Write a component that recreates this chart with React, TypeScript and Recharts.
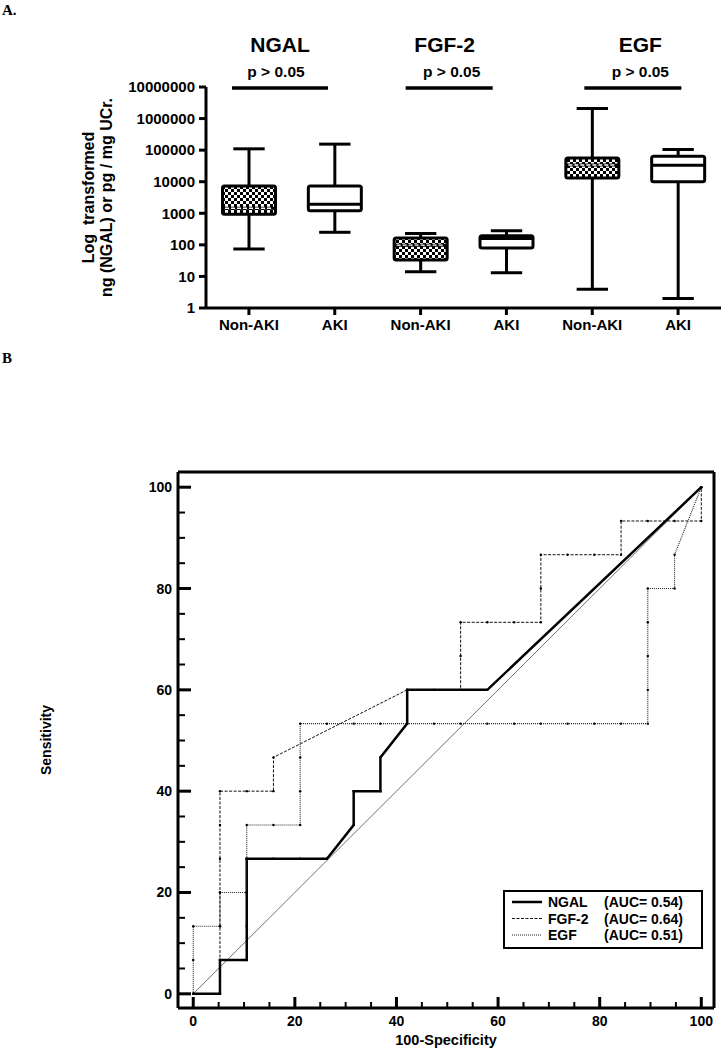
import React from 'react';
import { ComposedChart, Bar, Line, XAxis, YAxis, Legend } from 'recharts';

const FONT = '"Liberation Sans", Arial, Helvetica, sans-serif';

// ---- panel A: box plots (log scale) ----
const boxLabels = ['Non-AKI', 'AKI', 'Non-AKI', 'AKI', 'Non-AKI', 'AKI'];
const boxMarkers = ['NGAL', 'NGAL', 'FGF-2', 'FGF-2', 'EGF', 'EGF'];
const whiskerLow = [74, 250, 14, 13, 3.9, 2.0];
const quartile1 = [940, 1200, 33, 79, 13000, 9900];
const medians = [1450, 1950, 98, 158, 33700, 33500];
const quartile3 = [7250, 7300, 164, 195, 56000, 64000];
const whiskerHigh = [110000, 155000, 230, 280, 2100000, 105000];
const logTicks = [1, 10, 100, 1000, 10000, 100000, 1000000, 10000000];

const groupTitles = ['NGAL', 'FGF-2', 'EGF'];
const groupP = ['p > 0.05', 'p > 0.05', 'p > 0.05'];
const yTitleA = ['Log  transformed', 'ng (NGAL) or pg / mg UCr.'];

// ---- panel B: ROC curves ----
const pctTicks = [0, 5, 10, 15, 20, 25, 30, 35, 40, 45, 50, 55, 60, 65, 70, 75, 80, 85, 90, 95, 100];
const diagX = [0, 100];
const diagY = [0, 100];
const ngalX = [0, 5.26, 5.26, 10.53, 10.53, 10.53, 10.53, 15.79, 21.05, 26.32, 31.58, 31.58, 36.84, 36.84, 42.11, 42.11, 47.37, 52.63, 57.89, 100];
const ngalY = [0, 0, 6.67, 6.67, 13.33, 20, 26.67, 26.67, 26.67, 26.67, 33.33, 40, 40, 46.67, 53.33, 60, 60, 60, 60, 100];
const fgfX = [0, 5.26, 5.26, 5.26, 5.26, 5.26, 5.26, 5.26, 10.53, 15.79, 15.79, 42.11, 47.37, 52.63, 52.63, 52.63, 57.89, 63.16, 68.42, 68.42, 68.42, 73.68, 78.95, 84.21, 84.21, 89.47, 94.74, 100, 100];
const fgfY = [0, 0, 6.67, 13.33, 20, 26.67, 33.33, 40, 40, 40, 46.67, 60, 60, 60, 66.67, 73.33, 73.33, 73.33, 73.33, 80, 86.67, 86.67, 86.67, 86.67, 93.33, 93.33, 93.33, 93.33, 100];
const egfX = [0, 0, 0, 5.26, 5.26, 10.53, 10.53, 10.53, 15.79, 21.05, 21.05, 21.05, 21.05, 26.32, 31.58, 36.84, 42.11, 47.37, 52.63, 57.89, 63.16, 68.42, 73.68, 78.95, 84.21, 89.47, 89.47, 89.47, 89.47, 89.47, 94.74, 94.74, 100];
const egfY = [0, 6.67, 13.33, 13.33, 20, 20, 26.67, 33.33, 33.33, 33.33, 40, 46.67, 53.33, 53.33, 53.33, 53.33, 53.33, 53.33, 53.33, 53.33, 53.33, 53.33, 53.33, 53.33, 53.33, 53.33, 60, 66.67, 73.33, 80, 80, 86.67, 100];
const rocNames = ['NGAL', 'FGF-2', 'EGF'];
const rocAuc = ['0.54', '0.64', '0.51'];

const zip = (xs: number[], ys: number[]) => xs.map((x, i) => ({ x, y: ys[i] }));

const boxRows = boxLabels.map((label, i) => ({
  key: `${boxMarkers[i]}-${label}`,
  label,
  wLow: whiskerLow[i],
  q1: quartile1[i],
  median: medians[i],
  q3: quartile3[i],
  wHigh: whiskerHigh[i],
}));
const labelByKey: Record<string, string> = {};
boxRows.forEach((r) => (labelByKey[r.key] = r.label));

// annotation placement relative to the Non-AKI box of each group
const noteOffsets = [
  { title: 31, p: 27, l0: -17, l1: 79 },
  { title: 24, p: 31, l0: -15, l1: 72 },
  { title: 48, p: 48, l0: -8, l1: 89 },
];

const lineStyles = [
  { stroke: '#000', strokeWidth: 2.5, dash: undefined as string | undefined },
  { stroke: '#111', strokeWidth: 1, dash: '3 1.5' },
  { stroke: '#222', strokeWidth: 1.1, dash: '1 1' },
];

function BoxShape(props: any) {
  const { x, y, width, height, payload, index } = props;
  const top = Math.min(y, y + height);
  const bottom = Math.max(y, y + height);
  const lo = Math.log10(payload.wLow);
  const hi = Math.log10(payload.wHigh);
  const py = (v: number) => bottom - ((Math.log10(v) - lo) / (hi - lo)) * (bottom - top);
  const cx = x + width / 2;
  const cap = width * 0.28;
  const q1 = py(payload.q1);
  const q3 = py(payload.q3);
  const med = py(payload.median);
  const checkered = payload.label === 'Non-AKI';
  const g = Math.floor(index / 2);
  const yTop = py(10000000);
  const off = noteOffsets[g];
  return (
    <g>
      <line x1={cx} x2={cx} y1={top} y2={bottom} stroke="#000" strokeWidth={3} />
      <line x1={cx - cap} x2={cx + cap} y1={top} y2={top} stroke="#000" strokeWidth={3} />
      <line x1={cx - cap} x2={cx + cap} y1={bottom} y2={bottom} stroke="#000" strokeWidth={3} />
      <rect x={x + 1.5} y={q3} width={width - 3} height={q1 - q3} rx={2}
        fill={checkered ? 'url(#checker)' : '#fff'} stroke="#000" strokeWidth={3} />
      <line x1={x + 1.5} x2={x + width - 1.5} y1={med} y2={med} stroke="#000" strokeWidth={3} />
      {checkered && (
        <line x1={x + 4} x2={x + width - 4} y1={med} y2={med} stroke="#fff" strokeWidth={1.4} strokeDasharray="4 2" />
      )}
      {checkered && (
        <g>
          <text x={cx + off.title} y={yTop - 35} textAnchor="middle" fontFamily={FONT} fontWeight="bold"
            fontSize={21} fill="#000">{groupTitles[g]}</text>
          <text x={cx + off.p} y={yTop - 10} textAnchor="middle" fontFamily={FONT} fontWeight="bold"
            fontSize={15.5} fill="#000">{groupP[g]}</text>
          <line x1={cx + off.l0} x2={cx + off.l1} y1={yTop + 1} y2={yTop + 1} stroke="#000" strokeWidth={3.5} />
        </g>
      )}
    </g>
  );
}

const renderYTitleA = (props: any) => {
  const vb = props.viewBox || { x: 0, y: 87, width: 206, height: 221 };
  const cy = vb.y + vb.height / 2;
  return (
    <g>
      {yTitleA.map((t, i) => {
        const bx = vb.x + 94 + i * 18;
        return (
          <text key={t} x={bx} y={cy} transform={`rotate(-90 ${bx} ${cy})`} textAnchor="middle"
            fontFamily={FONT} fontWeight="bold" fontSize={16} fill="#000" style={{ whiteSpace: 'pre' }}>
            {t}
          </text>
        );
      })}
    </g>
  );
};

const RocXTick = (props: any) => {
  const { x, y, payload } = props;
  const v = payload.value;
  const major = v % 20 === 0;
  return (
    <g>
      <line x1={x} x2={x} y1={y} y2={y - (major ? 11 : 6)} stroke="#000" strokeWidth={major ? 3 : 2} />
      {major && (
        <text x={x} y={y + 18} textAnchor="middle" fontFamily={FONT} fontWeight="bold" fontSize={14} fill="#000">{v}</text>
      )}
    </g>
  );
};

const RocYTick = (props: any) => {
  const { x, y, payload } = props;
  const v = payload.value;
  const major = v % 20 === 0;
  return (
    <g>
      <line x1={x} x2={x + (major ? 13 : 7)} y1={y} y2={y} stroke="#000" strokeWidth={major ? 3 : 2} />
      {major && (
        <text x={x - 6} y={y + 5} textAnchor="end" fontFamily={FONT} fontWeight="bold" fontSize={14} fill="#000">{v}</text>
      )}
    </g>
  );
};

const renderYTitleB = (props: any) => {
  const vb = props.viewBox || { x: 0, y: 32, width: 178, height: 536 };
  const cy = vb.y + vb.height / 2;
  const bx = vb.x + 51;
  return (
    <text x={bx} y={cy} transform={`rotate(-90 ${bx} ${cy})`} textAnchor="middle"
      fontFamily={FONT} fontWeight="bold" fontSize={14} fill="#000">Sensitivity</text>
  );
};

const renderXTitleB = (props: any) => {
  const vb = props.viewBox || { x: 178, y: 568, width: 536, height: 42 };
  return (
    <text x={vb.x + vb.width / 2} y={vb.y + 37} textAnchor="middle"
      fontFamily={FONT} fontWeight="bold" fontSize={14.5} fill="#000">100-Specificity</text>
  );
};

function RocLegend() {
  return (
    <svg width={200} height={59}>
      <rect x={1} y={1} width={198} height={57} fill="#fff" stroke="#000" strokeWidth={2} />
      {rocNames.map((n, i) => {
        const ry = 12 + i * 16.5;
        const s = lineStyles[i];
        return (
          <g key={n}>
            <line x1={9} x2={39} y1={ry} y2={ry} stroke={s.stroke} strokeWidth={s.strokeWidth} strokeDasharray={s.dash} />
            <text x={45} y={ry + 5} fontFamily={FONT} fontWeight="bold" fontSize={14} fill="#000">{n}</text>
            <text x={101} y={ry + 5} fontFamily={FONT} fontWeight="bold" fontSize={14} fill="#000">{`(AUC= ${rocAuc[i]})`}</text>
          </g>
        );
      })}
    </svg>
  );
}

const axisLine = { stroke: '#000', strokeWidth: 3 };

export default function App() {
  const rocSeries = [zip(ngalX, ngalY), zip(fgfX, fgfY), zip(egfX, egfY)];
  return (
    <div style={{ position: 'absolute', left: 0, top: 0, width: 721, height: 1050, background: '#fff' }}>
      <svg width={721} height={1050} style={{ position: 'absolute', left: 0, top: 0 }}>
        <defs>
          <pattern id="checker" width={6} height={6} patternUnits="userSpaceOnUse">
            <rect width={6} height={6} fill="#fff" />
            <rect width={3} height={3} fill="#000" />
            <rect x={3} y={3} width={3} height={3} fill="#000" />
          </pattern>
        </defs>
        <text x={2} y={15} fontFamily='"Liberation Serif", "Times New Roman", serif' fontWeight="bold" fontSize={15}>A.</text>
        <text x={2} y={363} fontFamily='"Liberation Serif", "Times New Roman", serif' fontWeight="bold" fontSize={15}>B</text>
      </svg>

      <div style={{ position: 'absolute', left: 0, top: 0 }}>
        <ComposedChart width={721} height={340} data={boxRows} margin={{ top: 87, right: 0, bottom: 0, left: 0 }}>
          <XAxis dataKey="key" type="category" height={32} interval={0}
            tickFormatter={(v: string) => labelByKey[v]}
            axisLine={axisLine} tickLine={{ stroke: '#000', strokeWidth: 3 }} tickSize={7} tickMargin={4}
            tick={{ fill: '#000', fontSize: 15, fontWeight: 'bold', fontFamily: FONT }} />
          <YAxis type="number" scale="log" domain={[1, 10000000]} ticks={logTicks} interval={0} width={206}
            axisLine={axisLine} tickLine={{ stroke: '#000', strokeWidth: 3 }} tickSize={7} tickMargin={4}
            tick={{ fill: '#000', fontSize: 15, fontWeight: 'bold', fontFamily: FONT }}
            label={renderYTitleA} />
          <Bar dataKey={(d: any) => [d.wLow, d.wHigh]} barSize={56} shape={BoxShape} isAnimationActive={false} />
        </ComposedChart>
      </div>

      <div style={{ position: 'absolute', left: 0, top: 440 }}>
        <ComposedChart width={721} height={610} margin={{ top: 0, right: 0, bottom: 0, left: 0 }}>
          <XAxis xAxisId="b" dataKey="x" type="number" domain={[-3, 102.5]} allowDataOverflow ticks={pctTicks}
            interval={0} height={42} tickSize={0} tickMargin={0} tick={RocXTick} axisLine={axisLine}
            label={renderXTitleB} />
          <XAxis xAxisId="t" orientation="top" dataKey="x" type="number" domain={[-3, 102.5]} allowDataOverflow
            height={32} tick={false} tickLine={false} axisLine={axisLine} />
          <YAxis yAxisId="l" dataKey="y" type="number" domain={[-2.8, 103]} allowDataOverflow ticks={pctTicks}
            interval={0} width={178} tickSize={0} tickMargin={0} tick={RocYTick} axisLine={axisLine}
            label={renderYTitleB} />
          <YAxis yAxisId="r" orientation="right" dataKey="y" type="number" domain={[-2.8, 103]} allowDataOverflow
            width={7} tick={false} tickLine={false} axisLine={axisLine} />
          <Line xAxisId="b" yAxisId="l" data={zip(diagX, diagY)} dataKey="y" type="linear" stroke="#333"
            strokeWidth={0.7} dot={false} isAnimationActive={false} legendType="none" />
          {rocSeries.map((data, i) => (
            <Line key={rocNames[i]} xAxisId="b" yAxisId="l" data={data} dataKey="y" name={rocNames[i]} type="linear"
              stroke={lineStyles[i].stroke} strokeWidth={lineStyles[i].strokeWidth} strokeDasharray={lineStyles[i].dash}
              dot={{ r: 1.2, fill: '#000', stroke: '#000', strokeWidth: 0, strokeDasharray: '' }}
              isAnimationActive={false} />
          ))}
          <Legend layout="horizontal" verticalAlign="middle" align="center"
            wrapperStyle={{ left: 503, top: 450, width: 200, height: 59 }} content={() => <RocLegend />} />
        </ComposedChart>
      </div>
    </div>
  );
}
